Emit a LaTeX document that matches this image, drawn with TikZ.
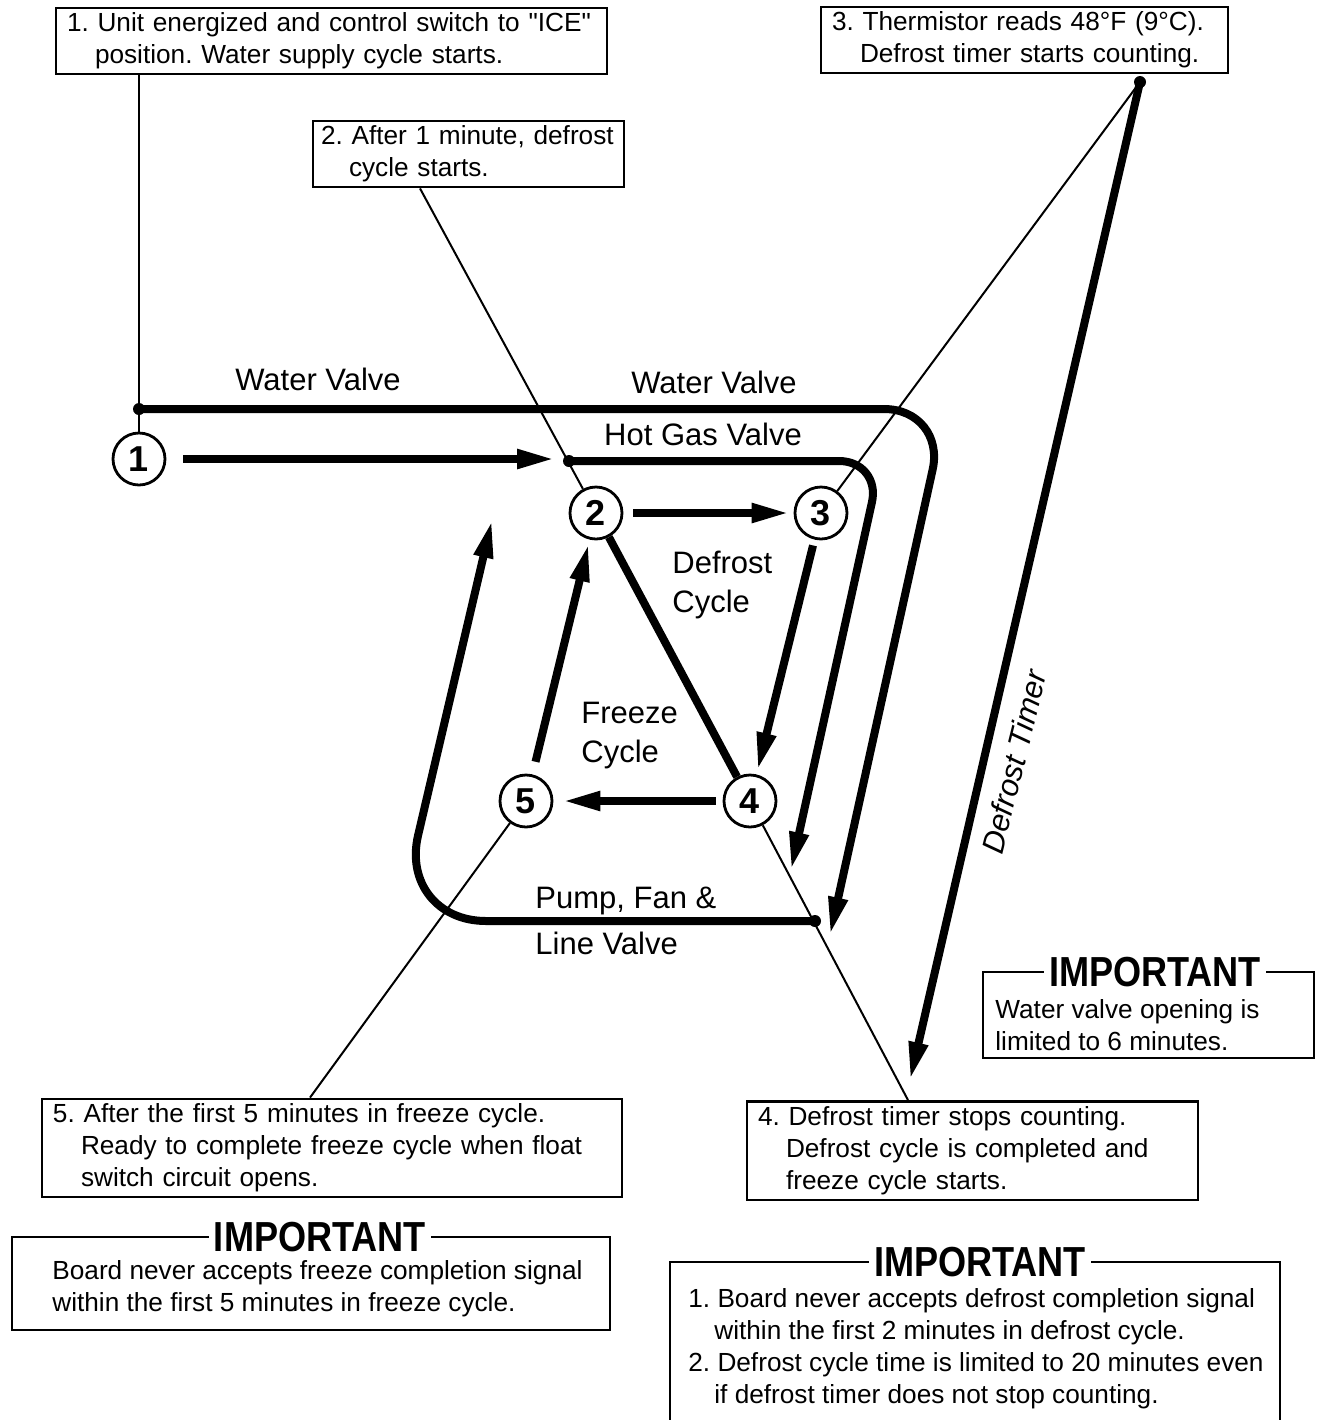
\documentclass[tikz,border=0pt]{standalone}
\usepackage{fontspec}
\setmainfont{Liberation Sans}[Ligatures=TeXOff]
\newfontfamily\impfam{Liberation Sans}[FakeStretch=0.86]
\usetikzlibrary{arrows.meta,positioning}
\frenchspacing
\newcommand\notefont{\fontsize{13.1}{16}\selectfont}
\newcommand\tagfont{\fontsize{15.5}{19.5}\selectfont}
\newcommand\stagefont{\fontsize{18}{18}\selectfont\bfseries}
\newcommand\impfont{\impfam\fontsize{21}{21}\selectfont\bfseries}
\newcommand\hangin{\hspace*{14pt}}
\tikzset{
  note/.style={draw, line width=1.2pt, align=left, inner xsep=5.5pt, inner ysep=2.5pt, font=\notefont},
  stage/.style={circle, draw, line width=1.4pt, minimum size=26pt, inner sep=0pt, font=\stagefont},
  flow/.style={line width=4pt, ->},
  pipe/.style={line width=4pt},
  leader/.style={line width=1pt},
  tag/.style={inner sep=0pt, align=left, font=\tagfont},
  imptitle/.style={inner xsep=2.5pt, inner ysep=0pt, font=\impfont},
  impbody/.style={inner sep=0pt, align=left, anchor=west, font=\notefont},
  frame/.style={line width=1.2pt}
}

\begin{document}
\begin{tikzpicture}[x=0.5pt, y=-0.5pt, >={Triangle[length=19pt,width=9pt]}]
\useasboundingbox (0,0) rectangle (1319,1420);

% step notes
\node[note, text width=264.5pt] (note1) at (331.5,41) {1. Unit energized and control switch to "ICE"\\\hangin position. Water supply cycle starts.};
\node[note, text width=147.5pt, inner xsep=4pt] (note2) at (468.5,154) {2. After 1 minute, defrost\\\hangin cycle starts.};
\node[note, text width=192.5pt] (note3) at (1024.5,40) {3. Thermistor reads 48°F (9°C).\\\hangin Defrost timer starts counting.};
\node[note, text width=214.5pt] (note4) at (972.5,1150.5) {4. Defrost timer stops counting.\\\hangin Defrost cycle is completed and\\\hangin freeze cycle starts.};
\node[note, text width=279pt] (note5) at (332,1148) {5. After the first 5 minutes in freeze cycle.\\\hangin Ready to complete freeze cycle when float\\\hangin switch circuit opens.};

% stages
\node[stage] (s1) at (139,459) {1};
\node[stage] (s2) at (596,513) {2};
\node[stage] (s3) at (821,513) {3};
\node[stage] (s4) at (750,801) {4};
\node[stage] (s5) at (526,801) {5};

\coordinate (wv) at (139,409);
\coordinate (hg) at (569,461);
\coordinate (pf) at (815,921);
\coordinate (th) at (1140,82);
\coordinate (wvc) at (946,409);
\coordinate (wvend) at (830,935);
\coordinate (hgc) at (881,461);
\coordinate (hgend) at (791,870);
\coordinate (pfc) at (398,921);
\coordinate (pfend) at (492,520);
\coordinate (tmend) at (910,1080);

% leader lines
\draw[leader] (note1.south -| s1) -- (s1);
\draw[leader] ([xshift=-24.25pt]note2.south) -- (s2);
\draw[leader] (th) -- (s3);
\draw[leader] (s4) -- ([xshift=-32.25pt]note4.north);
\draw[leader] (s5) -- ([xshift=-11pt]note5.north);

% valves and timer
\draw[pipe, rounded corners=31pt, ->] (wv) -- (wvc) -- (wvend);
\draw[pipe, rounded corners=21pt, ->] (hg) -- (hgc) -- (hgend);
\draw[pipe, rounded corners=44pt, ->] (pf) -- (pfc) -- (pfend);
\draw[pipe, ->] (th) -- (tmend);
\foreach \c in {wv,hg,pf,th}
  \fill (\c) circle (3pt);

% cycle
\draw[flow, shorten <=8.5pt, shorten >=7pt] (s1) -- (s1 -| hg);
\draw[flow, shorten <=5pt, shorten >=2pt] (s2) -- (s3);
\draw[flow, shorten <=3pt, shorten >=2pt] (s3) -- (s4);
\draw[flow, shorten <=3.5pt, shorten >=4.5pt] (s4) -- (s5);
\draw[flow, shorten <=6.5pt, shorten >=2pt] (s5) -- (s2);
\draw[pipe] (s2) -- (s4);

\node[tag] (wvl) at (318,379) {Water Valve};
\node[tag] (wvr) at (714,382) {Water Valve};
\node[tag] (hgl) at (703,434) {Hot Gas Valve};
\node[tag, anchor=west] (dcl) at (672,584.5) {Defrost\\Cycle};
\node[tag, anchor=west] (fcl) at (581,735.5) {Freeze\\Cycle};
\node[tag, anchor=west, font=\fontsize{15.5}{23}\selectfont] (pfl) at (535,921) {Pump, Fan \&\\Line Valve};
\node[tag, rotate=76, font=\tagfont\itshape] (dtl) at (1014,762) {Defrost Timer};

% important boxes
\node[imptitle] (impA) at (320,1237) {IMPORTANT};
\draw[frame] (impA.west) -- (12,1237) -- (12,1330) -- (610,1330) -- (610,1237) -- (impA.east);
\node[impbody] (impAtxt) at (52,1289) {Board never accepts freeze completion signal\\within the first 5 minutes in freeze cycle.};

\node[imptitle] (impB) at (1155,972) {IMPORTANT};
\draw[frame] (impB.west) -- (983,972) -- (983,1058) -- (1314,1058) -- (1314,972) -- (impB.east);
\node[impbody] (impBtxt) at (995,1025) {Water valve opening is\\limited to 6 minutes.};

\node[imptitle] (impC) at (980,1262) {IMPORTANT};
\draw[frame] (impC.west) -- (670,1262) -- (670,1430) -- (1280,1430) -- (1280,1262) -- (impC.east);
\node[impbody] (impCtxt) at (688,1349) {1. Board never accepts defrost completion signal\\\hspace*{13pt}within the first 2 minutes in defrost cycle.\\2. Defrost cycle time is limited to 20 minutes even\\\hspace*{13pt}if defrost timer does not stop counting.};

\end{tikzpicture}
\end{document}
